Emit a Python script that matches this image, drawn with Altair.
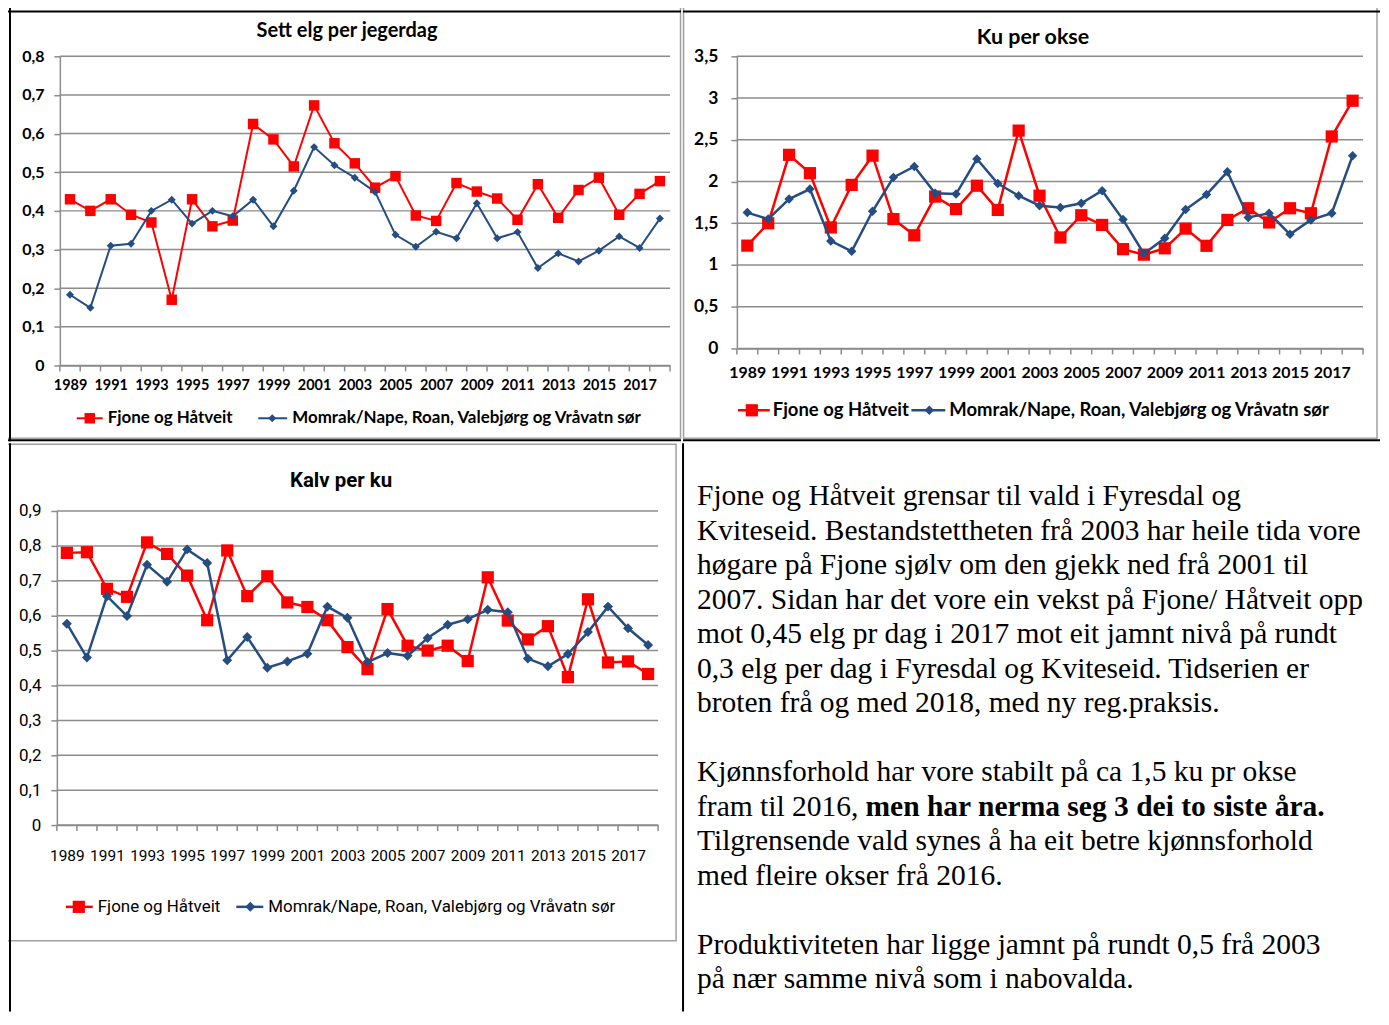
import altair as alt
import pandas as pd

# ---------------- data ----------------
years = list(range(1989, 2019))
series = ["Fjone og Håtveit", "Momrak/Nape, Roan, Valebjørg og Vråvatn sør"]

sett_fjone = [0.43, 0.40, 0.43, 0.39, 0.37, 0.17, 0.43, 0.36, 0.375, 0.625,
              0.585, 0.515, 0.673, 0.575, 0.523, 0.46, 0.49, 0.388, 0.374, 0.472,
              0.45, 0.432, 0.377, 0.469, 0.382, 0.454, 0.486, 0.39, 0.444, 0.477]
sett_momrak = [0.183, 0.149, 0.31, 0.315, 0.40, 0.429, 0.367, 0.40, 0.386, 0.429,
               0.36, 0.452, 0.565, 0.518, 0.486, 0.449, 0.338, 0.307, 0.346, 0.329,
               0.42, 0.329, 0.345, 0.252, 0.29, 0.269, 0.297, 0.334, 0.304, 0.38]

ku_fjone = [1.232, 1.5, 2.32, 2.10, 1.45, 1.96, 2.31, 1.55, 1.356, 1.82,
            1.67, 1.95, 1.66, 2.61, 1.83, 1.33, 1.596, 1.48, 1.19, 1.124,
            1.2, 1.436, 1.23, 1.54, 1.68, 1.51, 1.68, 1.62, 2.54, 2.968]
ku_momrak = [1.628, 1.55, 1.79, 1.91, 1.288, 1.164, 1.644, 2.05, 2.18, 1.86,
             1.85, 2.27, 1.976, 1.83, 1.71, 1.69, 1.74, 1.89, 1.544, 1.136,
             1.32, 1.664, 1.844, 2.116, 1.57, 1.62, 1.368, 1.54, 1.62, 2.31]

kalv_fjone = [0.78, 0.782, 0.677, 0.654, 0.81, 0.777, 0.715, 0.587, 0.787, 0.656,
              0.713, 0.638, 0.625, 0.587, 0.51, 0.447, 0.619, 0.514, 0.50, 0.514,
              0.47, 0.71, 0.586, 0.532, 0.57, 0.424, 0.647, 0.466, 0.469, 0.433]
kalv_momrak = [0.577, 0.48, 0.656, 0.599, 0.746, 0.697, 0.79, 0.751, 0.472, 0.539,
               0.451, 0.469, 0.491, 0.626, 0.594, 0.467, 0.493, 0.485, 0.536, 0.574,
               0.59, 0.617, 0.61, 0.477, 0.455, 0.49, 0.553, 0.626, 0.564, 0.516]

sett_ticks = [0, 0.1, 0.2, 0.3, 0.4, 0.5, 0.6, 0.7, 0.8]
ku_ticks = [0, 0.5, 1, 1.5, 2, 2.5, 3, 3.5]
kalv_ticks = [0, 0.1, 0.2, 0.3, 0.4, 0.5, 0.6, 0.7, 0.8, 0.9]

titles = ["Sett elg per jegerdag", "Ku per okse", "Kalv per ku"]

text_p1 = [
    "Fjone og Håtveit grensar til vald i Fyresdal og",
    "Kviteseid. Bestandstettheten frå 2003 har heile tida vore",
    "høgare på Fjone sjølv om den gjekk ned frå 2001 til",
    "2007. Sidan har det vore ein vekst på Fjone/ Håtveit opp",
    "mot 0,45 elg pr dag i 2017 mot eit jamnt nivå på rundt",
    "0,3 elg per dag i Fyresdal og Kviteseid. Tidserien er",
    "broten frå og med 2018, med ny reg.praksis.",
]
text_p2_first = "Kjønnsforhold har vore stabilt på ca 1,5 ku pr okse"
text_p2_mixed = ["fram til 2016, ", "men har nerma seg 3 dei to siste åra."]
text_p2_rest = [
    "Tilgrensende vald synes å ha eit betre kjønnsforhold",
    "med fleire okser frå 2016.",
]
text_p3 = [
    "Produktiviteten har ligge jamnt på rundt 0,5 frå 2003",
    "på nær samme nivå som i nabovalda.",
]

# ---------------- styling ----------------
RED = "#FF0000"
BLUE = "#254D82"
GRID = "#8C8C8C"
FRAME = "#A0A0A0"
BLACK = "#000000"
SANS = "Lato, Open Sans, sans-serif"
NARROW = "Roboto, Liberation Sans, sans-serif"
SERIF = "Liberation Serif, Times New Roman, serif"

one = alt.Data(values=[{"k": 0}])


def rule(x1, y1, x2, y2, color, width):
    enc = dict(x=alt.value(x1), y=alt.value(y1))
    if x1 != x2:
        enc["x2"] = alt.value(x2)
    if y1 != y2:
        enc["y2"] = alt.value(y2)
    return alt.Chart(one).mark_rule(color=color, strokeWidth=width).encode(**enc)


def panel(vals_a, vals_b, yticks, p):
    ox, oy = p.get("origin", p["plot"])
    px, py = p["plot"]
    W, H = p["W"], p["H"]
    X = lambda v: v - ox
    Y = lambda v: v - oy
    x0 = px - ox

    df = pd.DataFrame({
        "year": years * 2,
        "value": vals_a + vals_b,
        "series": [series[0]] * len(years) + [series[1]] * len(years),
    })
    grid_df = pd.DataFrame({"value": yticks})
    tick_df = pd.DataFrame({"year": [y - 0.5 for y in years] + [years[-1] + 0.5]})

    xenc = alt.X(
        "year:Q",
        scale=alt.Scale(domain=[years[0] - 0.5, years[-1] + 0.5], nice=False, zero=False,
                        rangeMin=x0, rangeMax=x0 + W),
        axis=alt.Axis(values=years[::2], format="d", ticks=False, tickSize=0, grid=False,
                      domainColor=GRID, domainWidth=1.5, labelFont=p["font"],
                      labelFontSize=p["tick_size"], labelFontWeight=p["weight"],
                      labelColor=BLACK, labelPadding=p["xpad"], labelBaseline="middle",
                      labelFlush=False, labelOverlap=False, title=None),
    )
    yenc = alt.Y(
        "value:Q",
        scale=alt.Scale(domain=[0, yticks[-1]], nice=False, zero=True),
        axis=alt.Axis(values=yticks, labelExpr="replace(format(datum.value, '.1~f'), '.', ',')",
                      grid=False, tickColor=GRID, tickSize=6, tickWidth=1.5, offset=-x0,
                      domainColor=GRID, domainWidth=1.5, labelFont=p["font"],
                      labelFontSize=p["ytick_size"], labelFontWeight=p["weight"],
                      labelColor=BLACK, labelPadding=p["ypad"], title=None),
    )

    cx1, cy1, cx2, cy2 = p["cell"]
    layers = [
        alt.Chart(one).mark_rect(fill="white", opacity=0).encode(
            x=alt.value(X(cx1)), x2=alt.value(X(cx2)), y=alt.value(Y(cy1)), y2=alt.value(Y(cy2))),
    ]
    fx1, fy1, fx2, fy2 = p["frame"]
    layers.append(alt.Chart(one).mark_rect(filled=False, stroke=FRAME, strokeWidth=1.5).encode(
        x=alt.value(X(fx1)), x2=alt.value(X(fx2)), y=alt.value(Y(fy1)), y2=alt.value(Y(fy2))))
    for (a, b, c, d) in p["black"]:
        layers.append(rule(X(a), Y(b), X(c), Y(d), BLACK, 2))

    layers.append(alt.Chart(grid_df).mark_rule(color=GRID, strokeWidth=1.5).encode(
        y=yenc, x=alt.value(x0), x2=alt.value(x0 + W)))
    layers.append(alt.Chart(tick_df).mark_rule(color=GRID, strokeWidth=1.5).encode(
        x=xenc, y=alt.value(H), y2=alt.value(H + 6)))

    styles = [(series[0], RED, "square", p["sq"]), (series[1], BLUE, "diamond", p["dia"])]
    for s, c, shp, sz in styles:
        base = alt.Chart(df).transform_filter(alt.datum.series == s)
        layers.append(base.mark_line(color=c, strokeWidth=p["lw"]).encode(x=xenc, y=yenc))
        layers.append(base.mark_point(shape=shp, filled=True, size=sz, color=c, opacity=1).encode(
            x=xenc, y=yenc))

    tx, ty = p["title_xy"]
    layers.append(alt.Chart(one).mark_text(
        text=p["title"], font=p["title_font"], fontSize=p["title_size"], fontWeight="bold",
        align="center", baseline="middle", color=BLACK).encode(x=alt.value(X(tx)), y=alt.value(Y(ty))))

    ly = p["leg_y"]
    for (s, c, shp, sz), (sx1, sx2, mx, txx) in zip(styles, p["leg"]):
        layers.append(rule(X(sx1), Y(ly), X(sx2), Y(ly), c, p["lw"]))
        layers.append(alt.Chart(one).mark_point(shape=shp, filled=True, size=sz, color=c, opacity=1).encode(
            x=alt.value(X(mx)), y=alt.value(Y(ly))))
        layers.append(alt.Chart(one).mark_text(
            text=s, font=p["font"], fontSize=p["leg_size"], fontWeight=p["weight"], align="left",
            baseline="middle", color=BLACK).encode(x=alt.value(X(txx)), y=alt.value(Y(ly))))

    return alt.layer(*layers).properties(width=W, height=H)


TOP, MID, BOT = 5, 442, 1012
LEFT, SPLIT, RIGHT = 6, 683, 1382
EDGE_Y, EDGE_X = 11, 10   # outer table lines, kept inside the visible page area

pA = dict(plot=(60, 56), W=612, H=310, cell=(LEFT, TOP, SPLIT, MID), frame=(7, 6, 682.5, 439),
          black=[(LEFT, EDGE_Y, SPLIT, EDGE_Y), (EDGE_X, TOP, EDGE_X, MID), (LEFT, 441, SPLIT, 441)],
          font=SANS, weight="bold", tick_size=14.5, ytick_size=16, xpad=20, ypad=10,
          title=titles[0], title_xy=(348, 31), title_font=SANS, title_size=20,
          leg_y=419, leg=[(77, 103, 90, 108), (259, 288, 273, 293)], leg_size=17,
          sq=110, dia=64, lw=2)
pB = dict(plot=(737, 56), W=628, H=293, cell=(SPLIT, TOP, RIGHT, MID), frame=(683.5, 6, 1379, 439),
          black=[(SPLIT, EDGE_Y, RIGHT, EDGE_Y), (SPLIT, 441, RIGHT, 441)],
          font=SANS, weight="bold", tick_size=16, ytick_size=17.5, xpad=24, ypad=13,
          title=titles[1], title_xy=(1034, 38), title_font=SANS, title_size=21.5,
          leg_y=411, leg=[(738, 770, 752, 773), (912, 946, 930, 950)], leg_size=18.5,
          sq=150, dia=90, lw=2.5)
pC = dict(origin=(60, 510), plot=(57, 510), W=603, H=315, cell=(LEFT, MID, SPLIT, BOT),
          frame=(7, 443, 678, 941), black=[(EDGE_X, MID, EDGE_X, BOT)],
          font=NARROW, weight="normal", tick_size=15.5, ytick_size=17, xpad=31, ypad=10,
          title=titles[2], title_xy=(342, 480), title_font=NARROW, title_size=20.5,
          leg_y=907, leg=[(66, 93, 79, 98), (237, 264, 251, 269)], leg_size=17,
          sq=150, dia=100, lw=2.5)

chartA = panel(sett_fjone, sett_momrak, sett_ticks, pA)
chartB = panel(ku_fjone, ku_momrak, ku_ticks, pB)
chartC = panel(kalv_fjone, kalv_momrak, kalv_ticks, pC)

# ---------------- text cell ----------------
# plot origin of the text cell is aligned with the plot origin of the chart beside it
DOX, DOY = SPLIT, pC["plot"][1]
FS = 29.6
LEAD = 34.67
dl = [alt.Chart(one).mark_rect(fill="white", opacity=0).encode(
    x=alt.value(0), x2=alt.value(RIGHT - DOX), y=alt.value(MID - DOY), y2=alt.value(BOT - DOY)),
    rule(2, MID - DOY, 2, BOT - DOY, BLACK, 2)]


def tline(s, x, y, bold=False):
    return alt.Chart(one).mark_text(text=s, font=SERIF, fontSize=FS,
                                    fontWeight="bold" if bold else "normal",
                                    align="left", baseline="alphabetic", color=BLACK).encode(
        x=alt.value(x - DOX), y=alt.value(y - DOY))


TX = 699
for i, s in enumerate(text_p1):
    dl.append(tline(s, TX, 504 + i * LEAD))
b2 = 781
dl.append(tline(text_p2_first, TX, b2))
seg_x = [699, 868]
for j, s in enumerate(text_p2_mixed):
    dl.append(tline(s, seg_x[j], b2 + LEAD, bold=(j == 1)))
for i, s in enumerate(text_p2_rest):
    dl.append(tline(s, TX, b2 + (i + 2) * LEAD))
b3 = 954
for i, s in enumerate(text_p3):
    dl.append(tline(s, TX, b3 + i * LEAD))

chartD = alt.layer(*dl).properties(width=RIGHT - DOX, height=BOT - DOY)

chart = alt.vconcat(
    alt.hconcat(chartA, chartB, spacing=0),
    alt.hconcat(chartC, chartD, spacing=0),
    spacing=0,
).properties(padding={"left": -3, "top": -5, "right": 0, "bottom": 0},
             background="white").configure_view(stroke=None)

chart.save("out.html", embed_options={"renderer": "svg", "actions": False})
